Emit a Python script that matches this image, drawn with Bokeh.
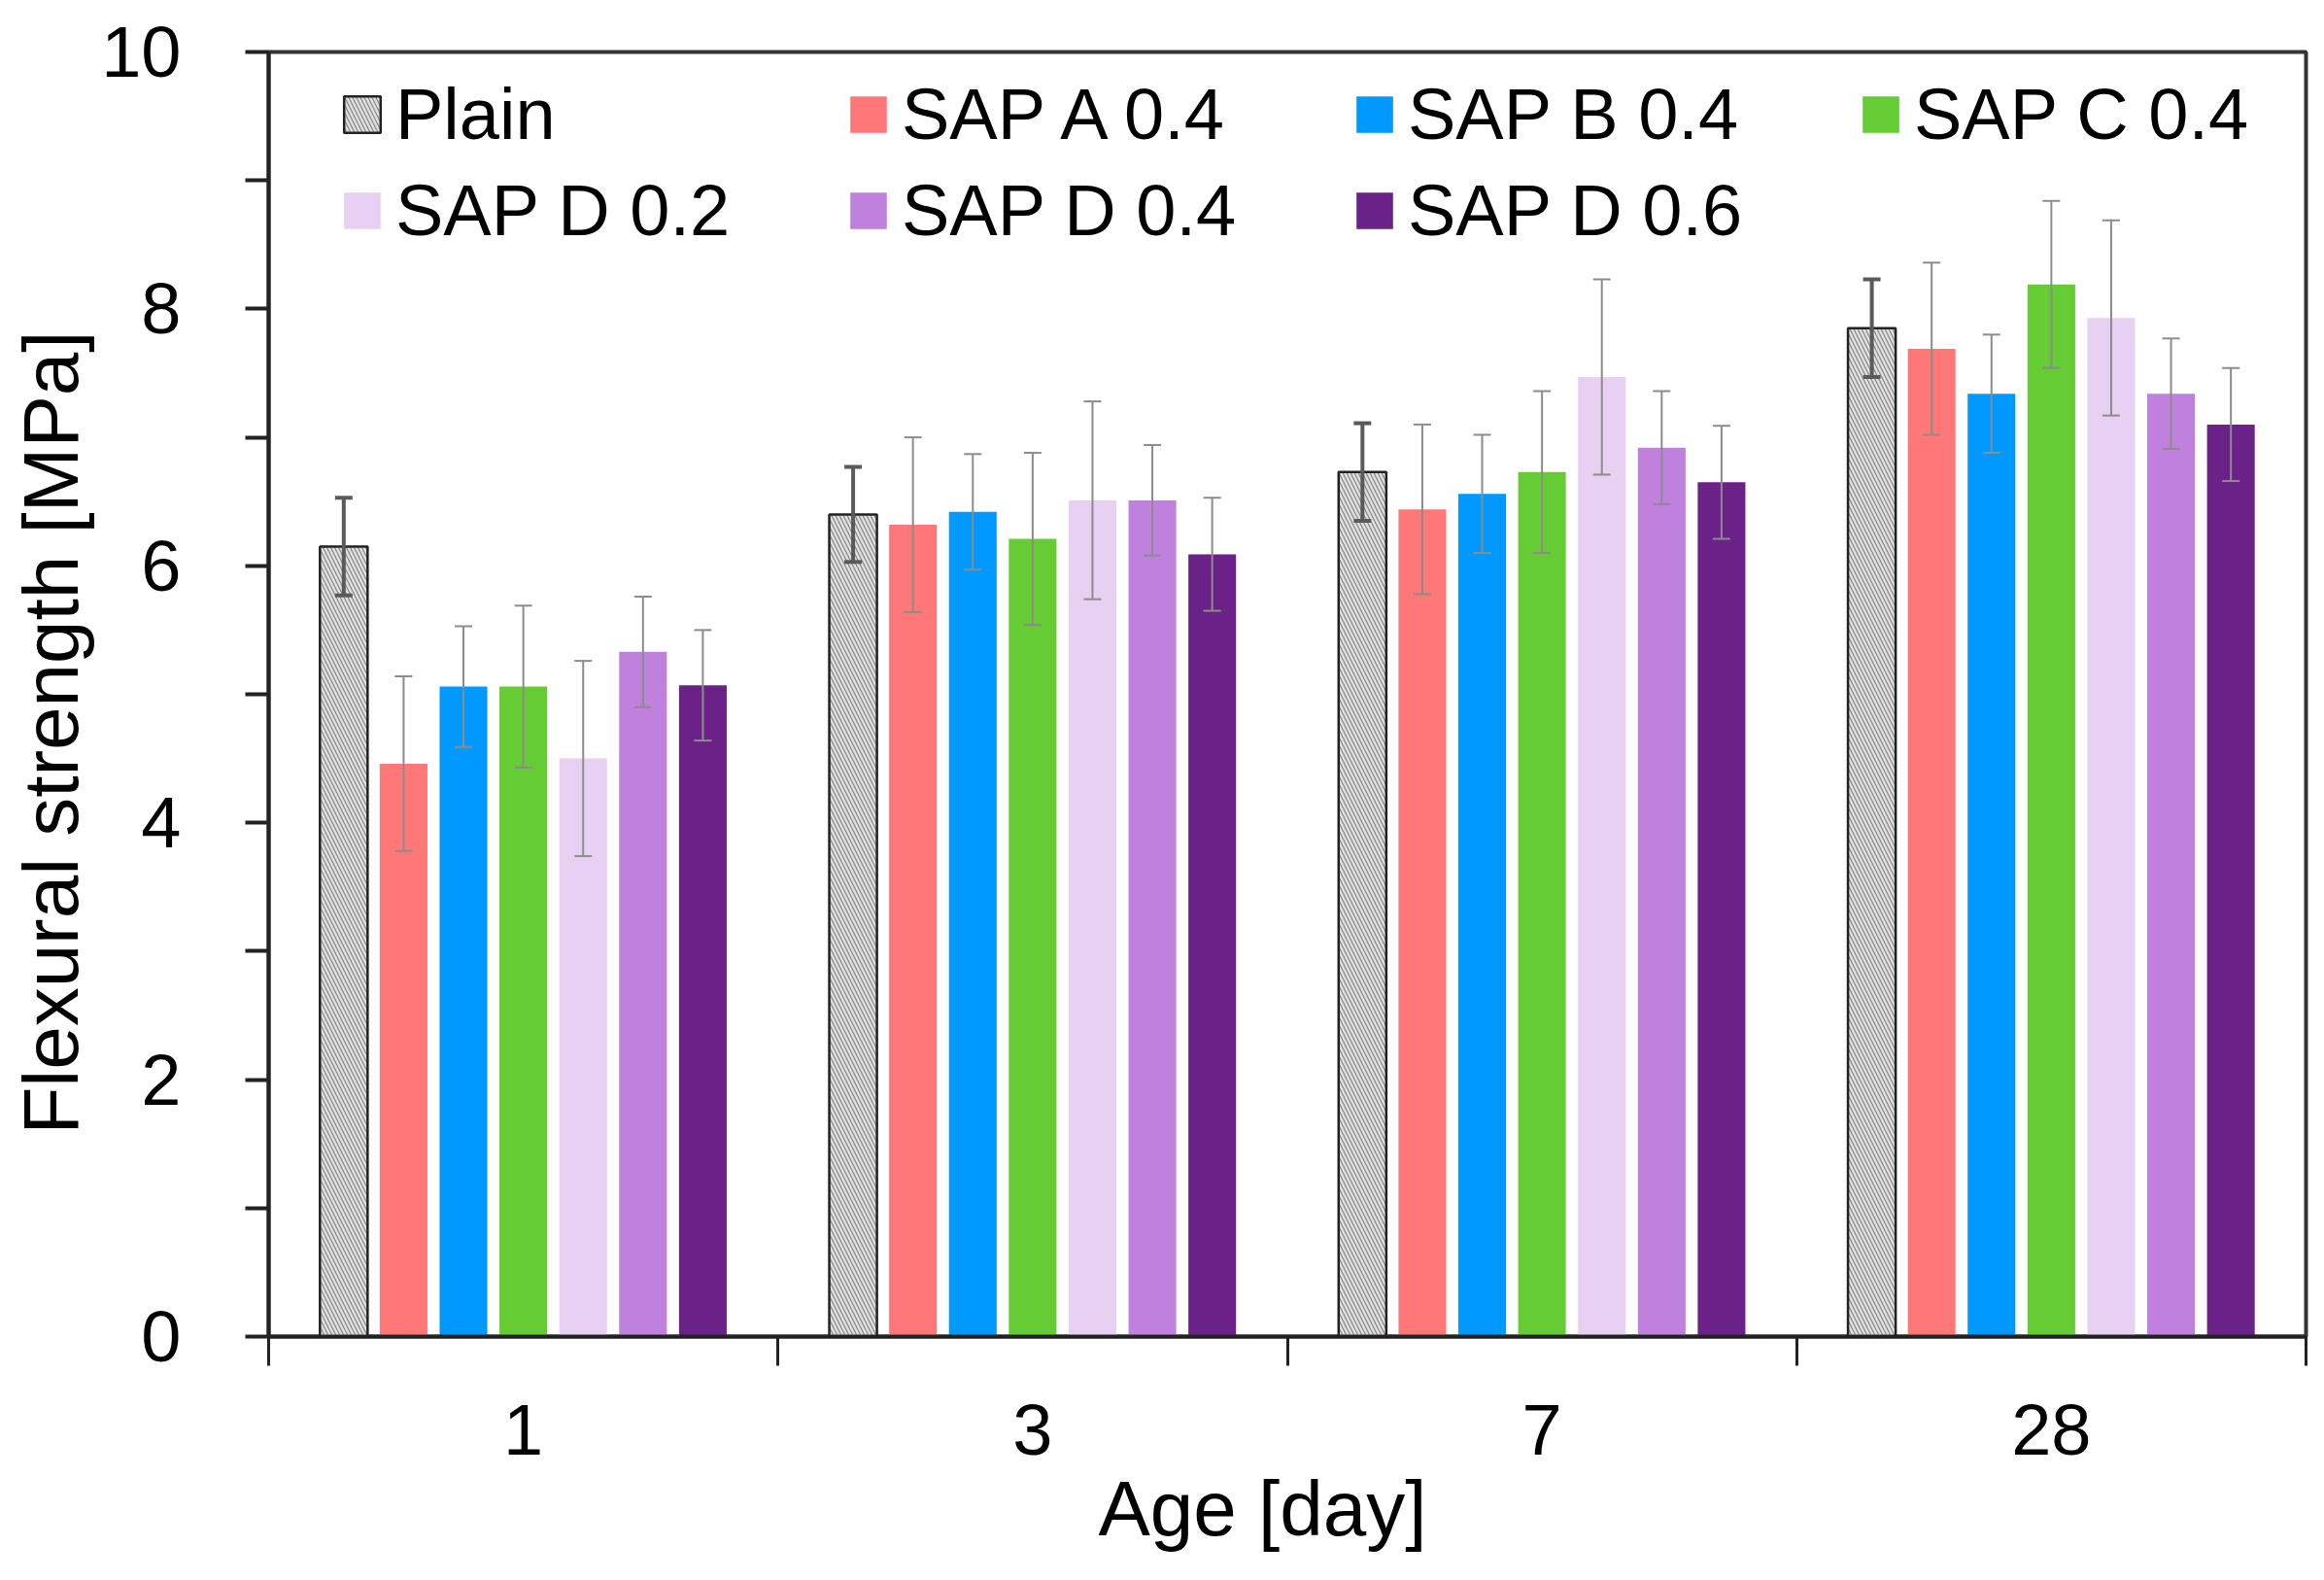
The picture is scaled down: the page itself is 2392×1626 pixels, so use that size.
from bokeh.plotting import figure
from bokeh.models import (ColumnDataSource, FixedTicker, Range1d, Legend,
                          LegendItem, Whisker, TeeHead, Title)
from bokeh.embed import file_html
from bokeh.resources import INLINE

# ---------------- data ----------------
ages = ["1", "3", "7", "28"]
series = ["Plain", "SAP A 0.4", "SAP B 0.4", "SAP C 0.4",
          "SAP D 0.2", "SAP D 0.4", "SAP D 0.6"]

plain = [6.15, 6.40, 6.73, 7.85]
sap_a = [4.46, 6.32, 6.44, 7.69]
sap_b = [5.06, 6.42, 6.56, 7.34]
sap_c = [5.06, 6.21, 6.73, 8.19]
sap_d02 = [4.50, 6.51, 7.47, 7.93]
sap_d04 = [5.33, 6.51, 6.92, 7.34]
sap_d06 = [5.07, 6.09, 6.65, 7.10]

plain_err = [0.38, 0.37, 0.38, 0.38]
sap_a_err = [0.68, 0.68, 0.66, 0.67]
sap_b_err = [0.47, 0.45, 0.46, 0.46]
sap_c_err = [0.63, 0.67, 0.63, 0.65]
sap_d02_err = [0.76, 0.77, 0.76, 0.76]
sap_d04_err = [0.43, 0.43, 0.44, 0.43]
sap_d06_err = [0.43, 0.44, 0.44, 0.44]

y_ticks = [0, 2, 4, 6, 8, 10]
y_minor = [1, 3, 5, 7, 9]

x_title = "Age [day]"
y_title = "Flexural strength [MPa]"

values = [plain, sap_a, sap_b, sap_c, sap_d02, sap_d04, sap_d06]
errors = [plain_err, sap_a_err, sap_b_err, sap_c_err, sap_d02_err,
          sap_d04_err, sap_d06_err]
colors = ["#e2e2e2", "#FF7878", "#0099FF", "#66CC33",
          "#E8D0F2", "#C080DE", "#6B2288"]

FONT = "Liberation Sans"
PITCH = 0.1175
BAR_W = 0.0936

BL, BR, BT, BB = 276, 3, 53, 235
W, H = 2376, 1610

p = figure(width=W, height=H, output_backend="svg", toolbar_location=None,
           x_range=Range1d(-0.5, 3.5), y_range=Range1d(0, 10),
           min_border_left=BL, min_border_right=BR,
           min_border_top=BT, min_border_bottom=BB,
           background_fill_color="white", border_fill_color="white")

p.xgrid.visible = False
p.ygrid.visible = False
p.outline_line_color = "#333333"
p.outline_line_width = 4

items = []
n = len(series)
for i, (name, vals, errs, col) in enumerate(zip(series, values, errors, colors)):
    xs = [g + (i - (n - 1) / 2) * PITCH for g in range(len(ages))]
    src = ColumnDataSource(dict(
        x=xs, top=vals,
        upper=[v + e for v, e in zip(vals, errs)],
        lower=[v - e for v, e in zip(vals, errs)],
    ))
    if i == 0:
        r = p.vbar(x="x", top="top", bottom=0, width=BAR_W, source=src,
                   fill_color=col, line_color="#222222", line_width=2.5,
                   hatch_pattern="\\", hatch_color="#8a8a8a",
                   hatch_scale=8, hatch_weight=1.3)
        wc, ww = "#5a5a5a", 4
    else:
        r = p.vbar(x="x", top="top", bottom=0, width=BAR_W, source=src,
                   fill_color=col, line_color=None)
        wc, ww = "#8c8c8c", 2
    w = Whisker(source=src, base="x", upper="upper", lower="lower",
                level="annotation",
                line_color=wc, line_width=ww,
                upper_head=TeeHead(size=18, line_color=wc, line_width=ww),
                lower_head=TeeHead(size=18, line_color=wc, line_width=ww))
    p.add_layout(w)
    items.append(LegendItem(label=name, renderers=[r]))

legend = Legend(items=items, location=(73, 1116), orientation="horizontal",
                ncols=4, padding=0, margin=0, spacing=14,
                glyph_width=47, glyph_height=47, label_standoff=11,
                label_width=449, label_height=80,
                label_text_font=FONT, label_text_font_size="74px",
                label_text_color="black",
                background_fill_alpha=0, border_line_color=None)
p.add_layout(legend)

# y axis
ya = p.yaxis[0]
ya.ticker = FixedTicker(ticks=y_ticks, minor_ticks=y_minor)
ya.major_tick_in = 0
ya.major_tick_out = 24
ya.minor_tick_in = 0
ya.minor_tick_out = 24
ya.major_tick_line_width = 4
ya.minor_tick_line_width = 4
ya.major_tick_line_color = "#222222"
ya.minor_tick_line_color = "#222222"
ya.axis_line_width = 4
ya.axis_line_color = "#222222"
ya.major_label_standoff = 66
ya.major_label_text_font = FONT
ya.major_label_text_font_size = "74px"
ya.major_label_text_color = "black"

# x axis
xa = p.xaxis[0]
xa.ticker = FixedTicker(ticks=list(range(len(ages))),
                        minor_ticks=[g - 0.5 for g in range(len(ages) + 1)])
xa.major_label_overrides = {g: a for g, a in enumerate(ages)}
xa.major_tick_in = 0
xa.major_tick_out = 0
xa.minor_tick_in = 0
xa.minor_tick_out = 30
xa.minor_tick_line_width = 3
xa.minor_tick_line_color = "#222222"
xa.axis_line_width = 4
xa.axis_line_color = "#222222"
xa.major_label_standoff = 40
xa.major_label_text_font = FONT
xa.major_label_text_font_size = "74px"
xa.major_label_text_color = "black"

# axis titles (as side titles, so they can be offset like the reference)
p.add_layout(Title(text=y_title, align="left", offset=208, standoff=9,
                   text_font=FONT, text_font_size="80px",
                   text_font_style="normal", text_color="black"), "left")
p.add_layout(Title(text=x_title, align="left", offset=854, standoff=13,
                   text_font=FONT, text_font_size="80px",
                   text_font_style="normal", text_color="black"), "below")

open("out.html", "w").write(file_html(p, INLINE))
